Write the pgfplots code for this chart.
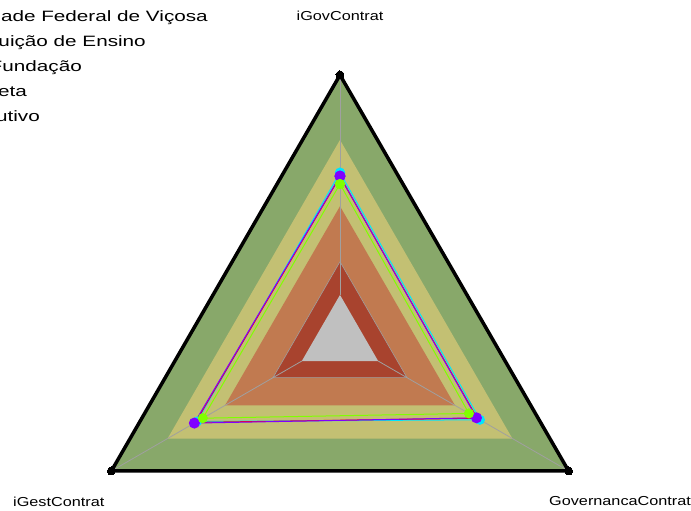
\documentclass[border=0pt]{standalone}
\usepackage{fontspec}
\setmainfont{Liberation Sans}
\newfontfamily\labfont[FakeStretch=1.25]{Liberation Sans}
\newfontfamily\legfont[FakeStretch=1.38]{Liberation Sans}
\usepackage{pgfplots}
\pgfplotsset{compat=1.18}
\usepgfplotslibrary{polar}
\usetikzlibrary{calc}

\definecolor{bandgreen}{HTML}{88A86A}
\definecolor{bandkhaki}{HTML}{C3C073}
\definecolor{bandorange}{HTML}{C17A50}
\definecolor{bandred}{HTML}{A8432E}
\definecolor{bandgray}{HTML}{C0C0C0}
\definecolor{palegreen}{HTML}{AAD08C}
\definecolor{spoke}{HTML}{A0A0A0}
\definecolor{ufv}{HTML}{8000FF}
\definecolor{inst}{HTML}{00E5FF}
\definecolor{fund}{HTML}{80FF00}
\definecolor{exec}{HTML}{FF0000}

\begin{document}
\begin{tikzpicture}
\begin{polaraxis}[
    hide axis,
    scale only axis,
    width=528pt, height=528pt,
    xmin=0, xmax=360, ymin=0, ymax=1,
    clip=false,
  ]
  % faixas de referencia
  \addplot[draw=palegreen, line width=1.5pt, fill=bandgreen] coordinates {(90,1) (210,1) (330,1) (90,1)};
  \addplot[draw=none, fill=bandkhaki] coordinates {(90,0.754) (210,0.754) (330,0.754) (90,0.754)};
  \addplot[draw=none, fill=bandorange] coordinates {(90,0.503) (210,0.503) (330,0.503) (90,0.503)};
  \addplot[draw=none, fill=bandred] coordinates {(90,0.293) (210,0.293) (330,0.293) (90,0.293)};
  % raios
  \addplot[spoke, line width=0.8pt] coordinates {(90,0.167) (90,1)};
  \addplot[spoke, line width=0.8pt] coordinates {(210,0.167) (210,1)};
  \addplot[spoke, line width=0.8pt] coordinates {(330,0.167) (330,1)};
  \addplot[spoke, line width=0.6pt] coordinates {(90,0.293) (210,0.293) (330,0.293) (90,0.293)};
  \addplot[draw=none, fill=bandgray] coordinates {(90,0.167) (210,0.167) (330,0.167) (90,0.167)};
  % series
  \addplot[inst, line width=1pt, mark=*, mark size=4.5pt] coordinates {(90,0.630) (210,0.625) (330,0.612) (90,0.630)};
  \addplot[exec, line width=1pt] coordinates {(90,0.615) (210,0.632) (330,0.600) (90,0.615)};
  \addplot[ufv, line width=1pt, mark=*, mark size=5pt] coordinates {(90,0.617) (210,0.637) (330,0.597) (90,0.617)};
  \addplot[fund, line width=1pt, mark=*, mark size=4.5pt] coordinates {(90,0.587) (210,0.600) (330,0.564) (90,0.587)};
  \addplot[black, line width=3.5pt, line join=round, mark=*, mark size=4pt, mark options={line width=0pt}] coordinates {(90,1) (210,1) (330,1) (90,1)};

  \coordinate (c) at (axis cs:0,0);
  \node[font=\labfont\fontsize{13}{15}\selectfont] at (axis cs:90,1.225) {iGovContrat};
  \node[font=\labfont\fontsize{13}{15}\selectfont] at (axis cs:210,1.23) {iGestContrat};
  \node[font=\labfont\fontsize{13}{15}\selectfont] at (axis cs:330,1.225) {GovernancaContrat};
\end{polaraxis}
% legenda (parcialmente cortada a esquerda, como no original)
\begin{scope}[every node/.style={font=\legfont\fontsize{15}{17}\selectfont, anchor=base east, inner sep=0pt}]
  \node at ($(c)+(-132pt,317pt)$) {Universidade Federal de Viçosa};
  \node at ($(c)+(-194pt,292pt)$) {Instituição de Ensino};
  \node at ($(c)+(-258pt,267pt)$) {Fundação};
  \node at ($(c)+(-313pt,242pt)$) {Meta};
  \node at ($(c)+(-300pt,217pt)$) {Executivo};
\end{scope}
\pgfresetboundingbox
\path[use as bounding box] ($(c)+(-340pt,-172pt)$) rectangle ($(c)+(351pt,339pt)$);
\end{tikzpicture}
\end{document}
